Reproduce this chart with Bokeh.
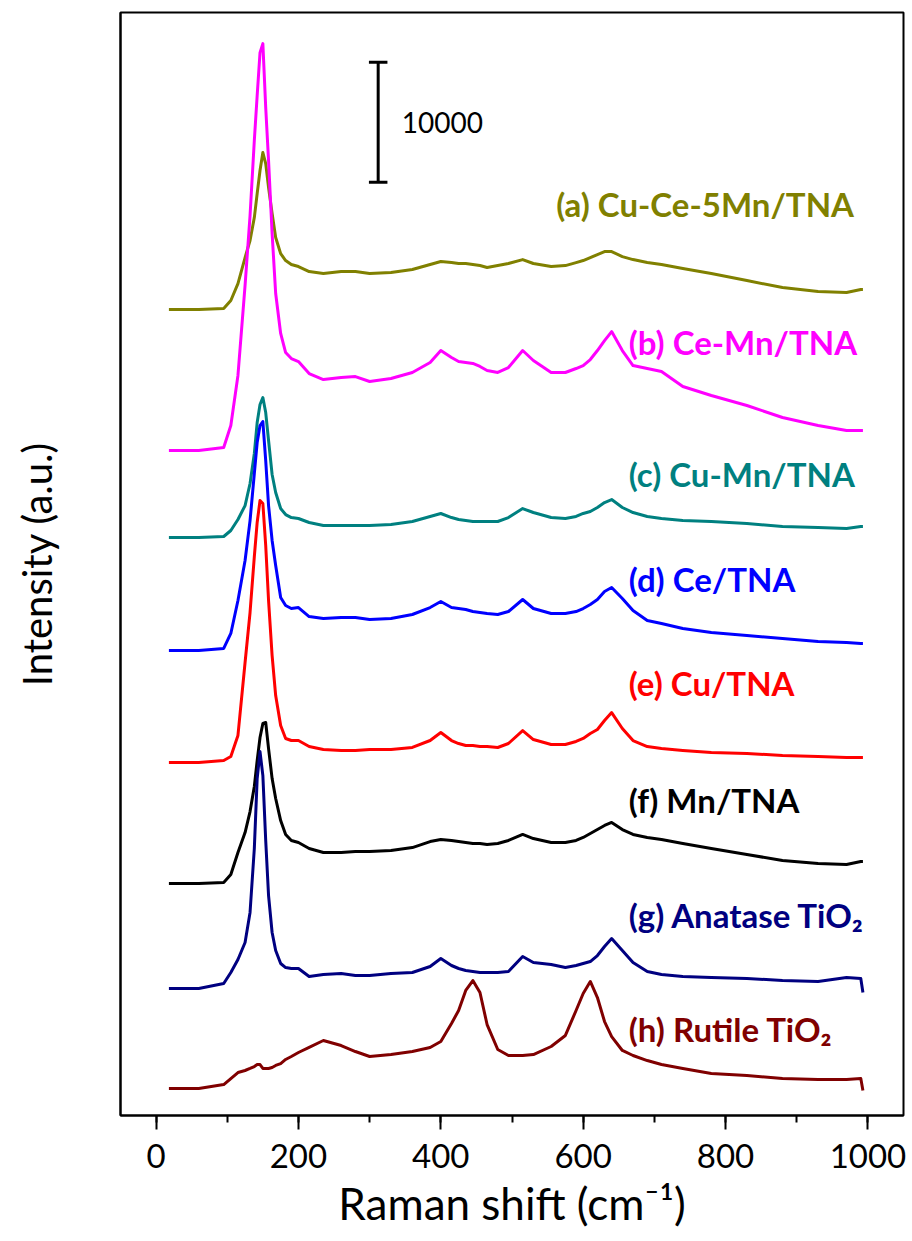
from bokeh.plotting import figure
from bokeh.models import Range1d, SingleIntervalTicker, FixedTicker
from bokeh.core.properties import value
from bokeh.embed import file_html
from bokeh.resources import INLINE

# Raman shift (cm^-1) sampling positions shared by all spectra
raman_shift = [18, 60, 95, 105, 115, 125, 132, 138, 142, 146,
               150, 154, 158, 163, 168, 175, 182, 190, 200, 215,
               235, 260, 280, 300, 330, 360, 385, 400, 415, 425,
               435, 445, 455, 465, 480, 495, 515, 530, 555, 575,
               590, 600, 610, 620, 630, 640, 655, 670, 690, 710,
               740, 780, 830, 880, 930, 970, 990, 993]

# Stacked intensities (counts, offset for display)
cu_ce_5mn_tna = [67170, 67170, 67250, 67920, 69330, 71500, 72920, 74830, 76830, 78750,
                 80250, 79330, 77330, 75170, 73170, 71830, 71250, 70920, 70750, 70330,
                 70170, 70330, 70330, 70170, 70250, 70500, 70920, 71170, 71080, 71000,
                 71000, 70920, 70830, 70670, 70830, 71000, 71330, 71000, 70750, 70830,
                 71080, 71250, 71500, 71750, 72000, 72000, 71580, 71330, 71080, 70920,
                 70580, 70170, 69580, 69000, 68670, 68580, 68830, 68830]
ce_mn_tna = [55420, 55420, 55670, 57500, 61670, 69170, 75000, 81250, 85000, 88580,
             89330, 84000, 79580, 73500, 68500, 65170, 63580, 63080, 62830, 61830,
             61330, 61500, 61580, 61170, 61420, 61920, 62750, 63750, 63170, 62830,
             62750, 62670, 62420, 62080, 61920, 62330, 63750, 62920, 61920, 61920,
             62250, 62500, 63000, 63750, 64580, 65330, 63750, 62500, 62250, 62000,
             60750, 60000, 59170, 58170, 57500, 57080, 57080, 57080]
cu_mn_tna = [48170, 48170, 48250, 48750, 49670, 50830, 52670, 55170, 57750, 59250,
             59830, 58580, 56250, 53420, 51920, 50580, 50080, 49830, 49750, 49420,
             49170, 49170, 49170, 49170, 49250, 49500, 49920, 50170, 49830, 49670,
             49580, 49500, 49500, 49500, 49500, 49830, 50580, 50250, 49830, 49750,
             49920, 50170, 50330, 50670, 51080, 51330, 50670, 50250, 49920, 49750,
             49580, 49500, 49330, 49080, 49000, 48920, 49080, 49080]
ce_tna = [38750, 38750, 38920, 40170, 42920, 46250, 49580, 53500, 56080, 57500,
          57830, 54580, 50830, 47920, 45830, 43170, 42500, 42250, 42330, 41580,
          41420, 41500, 41500, 41330, 41420, 41750, 42330, 42830, 42330, 42250,
          42170, 42000, 41920, 41830, 41750, 42000, 43000, 42250, 41830, 41830,
          42000, 42250, 42580, 43000, 43670, 44000, 43080, 42080, 41250, 41000,
          40580, 40250, 40000, 39750, 39500, 39420, 39330, 39330]
cu_tna = [29420, 29420, 29580, 29920, 31670, 37750, 41920, 46580, 49420, 51250,
          51000, 47500, 42920, 38330, 35000, 32500, 31420, 31250, 31250, 30750,
          30500, 30420, 30420, 30500, 30500, 30670, 31250, 31920, 31250, 31000,
          30830, 30830, 30750, 30750, 30670, 31000, 32080, 31330, 30920, 30920,
          31170, 31420, 31830, 32170, 32920, 33580, 32250, 31250, 30750, 30580,
          30420, 30250, 30170, 30000, 29920, 29830, 29830, 29830]
mn_tna = [19330, 19330, 19420, 20080, 21920, 23580, 25330, 27420, 29580, 31500,
          32670, 32750, 30580, 28080, 26420, 24580, 23420, 22920, 22750, 22250,
          21920, 21920, 22000, 22000, 22080, 22330, 22830, 23000, 22920, 22830,
          22750, 22670, 22670, 22580, 22670, 22920, 23420, 23080, 22750, 22750,
          22920, 23170, 23500, 23830, 24170, 24420, 23830, 23420, 23170, 23000,
          22670, 22250, 21750, 21250, 21000, 20920, 21170, 21170]
anatase_tio2 = [10580, 10580, 11000, 11920, 13000, 14420, 16920, 22250, 28080, 30330,
                28330, 22920, 18330, 15250, 13750, 12670, 12330, 12250, 12250, 11580,
                11750, 11830, 11670, 11670, 11830, 11920, 12420, 13080, 12500, 12250,
                12080, 12000, 11920, 11920, 11920, 12000, 13250, 12750, 12580, 12330,
                12500, 12670, 12830, 13330, 14080, 14750, 13750, 12750, 12000, 11750,
                11580, 11500, 11420, 11250, 11170, 11500, 11420, 10250]
rutile_tio2 = [2250, 2250, 2580, 3080, 3580, 3750, 3920, 4080, 4250, 4250,
               3920, 3920, 3920, 4000, 4170, 4330, 4670, 4920, 5250, 5670,
               6250, 5830, 5330, 4920, 5080, 5330, 5670, 6170, 7670, 8750,
               10420, 11250, 10250, 7580, 5500, 5000, 5000, 5080, 5750, 6670,
               8750, 10170, 11170, 9830, 7830, 6580, 5420, 5000, 4580, 4250,
               3920, 3500, 3330, 3080, 3000, 3000, 3080, 2080]

series = [cu_ce_5mn_tna, ce_mn_tna, cu_mn_tna, ce_tna, cu_tna, mn_tna, anatase_tio2, rutile_tio2]
series_labels = ["(a) Cu-Ce-5Mn/TNA", "(b) Ce-Mn/TNA", "(c) Cu-Mn/TNA", "(d) Ce/TNA",
                 "(e) Cu/TNA", "(f) Mn/TNA", "(g) Anatase TiO\u2082", "(h) Rutile TiO\u2082"]
series_colors = ["#808000", "#FF00FF", "#008080", "#0000FF",
                 "#FF0000", "#000000", "#000080", "#800000"]
# label anchor points (left edge, vertical centre) in data coordinates
label_x = [562, 664, 664, 664, 664, 664, 664, 664]
label_y = [75920, 64420, 53420, 44670, 36080, 26330, 16750, 7250]

# intensity scale bar
scale_bar_x = 312
scale_bar_bottom = 77770
scale_bar_length = 10000

FONT = "Lato"

p = figure(width=912, height=1241, output_backend="svg", toolbar_location=None,
           x_range=Range1d(-50, 1050), y_range=Range1d(0, 91920),
           min_border_left=120, min_border_right=9, min_border_top=12,
           min_border_bottom=126)
p.grid.visible = False
p.outline_line_color = "black"
p.outline_line_width = 2
p.background_fill_color = "white"
p.border_fill_color = "white"

for ys, col in zip(series, series_colors):
    p.line(raman_shift, ys, line_color=col, line_width=3, line_join="round")

p.text(x=label_x, y=label_y, text=series_labels, text_color=series_colors,
       text_font=value(FONT), text_font_style="bold", text_font_size="33px",
       text_baseline="middle", text_align="left")

# scale bar
top = scale_bar_bottom + scale_bar_length
p.segment(x0=[scale_bar_x, scale_bar_x - 13, scale_bar_x - 13],
          y0=[scale_bar_bottom, scale_bar_bottom, top],
          x1=[scale_bar_x, scale_bar_x + 13, scale_bar_x + 13],
          y1=[top, scale_bar_bottom, top],
          line_color="black", line_width=3)
p.text(x=[scale_bar_x + 33], y=[scale_bar_bottom + scale_bar_length / 2],
       text=[str(scale_bar_length)], text_font=value(FONT), text_font_size="28px",
       text_baseline="middle", text_align="left", text_color="black")

# x axis
xa = p.xaxis[0]
xa.ticker = SingleIntervalTicker(interval=200, num_minor_ticks=2)
xa.axis_label = "Raman shift (cm\u207b\u00b9)"
xa.axis_label_text_font = FONT
xa.axis_label_text_font_size = "44px"
xa.axis_label_text_font_style = "normal"
xa.axis_label_text_color = "black"
xa.axis_label_standoff = 6
xa.major_label_text_font = FONT
xa.major_label_text_font_size = "33px"
xa.major_label_text_color = "black"
xa.major_label_standoff = 14
xa.major_tick_out = 14
xa.major_tick_in = 0
xa.minor_tick_out = 7
xa.minor_tick_in = 0
xa.axis_line_width = 2
xa.major_tick_line_width = 2
xa.minor_tick_line_width = 2
xa.axis_line_color = "black"
xa.major_tick_line_color = "black"
xa.minor_tick_line_color = "black"

# y axis (no ticks)
ya = p.yaxis[0]
ya.ticker = FixedTicker(ticks=[])
ya.axis_label = "Intensity (a.u.)"
ya.axis_label_text_font = FONT
ya.axis_label_text_font_size = "40px"
ya.axis_label_text_font_style = "normal"
ya.axis_label_text_color = "black"
ya.axis_label_standoff = 60
ya.axis_line_width = 2
ya.axis_line_color = "black"
ya.major_tick_line_color = None
ya.minor_tick_line_color = None

open("out.html", "w").write(file_html(p, INLINE))
